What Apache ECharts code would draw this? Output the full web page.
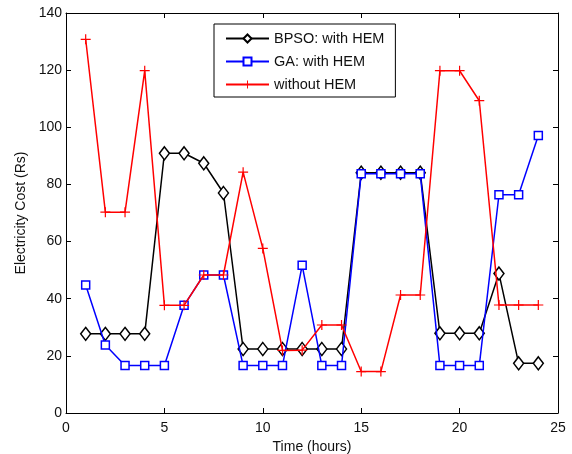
<!DOCTYPE html>
<html>
<head>
<meta charset="utf-8">
<script src="https://cdn.jsdelivr.net/npm/echarts@6/dist/echarts.min.js"></script>
<style>
  html, body { margin: 0; padding: 0; background: #fff; }
  #chart { width: 572px; height: 454px; }
</style>
</head>
<body>
<div id="chart"></div>
<script>
// Hours of the day (1..24)
const hours = [1,2,3,4,5,6,7,8,9,10,11,12,13,14,15,16,17,18,19,20,21,22,23,24];

// Electricity cost per hour (Rs)
const bpsoWithHem = [27.7,27.7,27.7,27.7,90.9,90.9,87.4,77,22.4,22.4,22.4,22.4,22.4,22.4,84.1,84.1,84.1,84.1,27.9,27.9,27.9,48.8,17.4,17.4];
const gaWithHem = [44.8,23.8,16.6,16.6,16.6,37.7,48.3,48.3,16.6,16.6,16.6,51.7,16.6,16.6,83.7,83.7,83.7,83.7,16.6,16.6,16.6,76.4,76.4,97.1];
const withoutHem = [130.8,70.3,70.3,119.8,37.7,37.7,48.3,48.3,84.3,57.6,21.9,22,30.8,30.8,14.5,14.5,41.3,41.3,119.8,119.8,109.3,37.8,37.8,37.8];

const seriesNames = ['BPSO: with HEM', 'GA: with HEM', 'without HEM'];
const xTicks = { min: 0, max: 25, interval: 5 };
const yTicks = { min: 0, max: 140, interval: 20 };

const pairs = arr => hours.map((h, i) => [h, arr[i]]);
const FONT = 'Liberation Sans';
const plusPath = 'path://M4.4,0 h1.2 v10 h-1.2 Z M0,4.4 h10 v1.2 h-10 Z';

const chart = echarts.init(document.getElementById('chart'), null, { renderer: 'canvas' });

const axisCommon = {
  type: 'value',
  axisLine: { show: true, onZero: false, lineStyle: { color: '#000', width: 1 } },
  axisTick: { show: true, inside: true, length: 5, lineStyle: { color: '#000' } },
  splitLine: { show: false },
};

chart.setOption({
  backgroundColor: '#fff',
  animation: false,
  grid: { left: 66, top: 13, right: 14, bottom: 41, containLabel: false, outerBoundsMode: 'none' },
  legend: {
    orient: 'vertical',
    left: 214,
    top: 24,
    padding: [7, 11, 5, 11],
    itemGap: 8,
    itemWidth: 43,
    itemHeight: 10,
    backgroundColor: '#fff',
    borderColor: '#000',
    borderWidth: 1,
    borderRadius: 0,
    textStyle: { fontFamily: FONT, fontSize: 14.5, color: '#111' },
    data: seriesNames,
  },
  xAxis: [
    Object.assign({}, axisCommon, {
      position: 'bottom',
      min: xTicks.min, max: xTicks.max, interval: xTicks.interval,
      name: 'Time (hours)',
      nameLocation: 'middle',
      nameGap: 26,
      nameTextStyle: { fontFamily: FONT, fontSize: 14, color: '#111' },
      axisLabel: { fontFamily: FONT, fontSize: 14, color: '#111', margin: 8 },
    }),
    Object.assign({}, axisCommon, {
      position: 'top',
      min: xTicks.min, max: xTicks.max, interval: xTicks.interval,
      axisLabel: { show: false },
    }),
  ],
  yAxis: [
    Object.assign({}, axisCommon, {
      position: 'left',
      min: yTicks.min, max: yTicks.max, interval: yTicks.interval,
      name: 'Electricity Cost (Rs)',
      nameLocation: 'middle',
      nameGap: 35,
      nameTextStyle: { fontFamily: FONT, fontSize: 14, color: '#111' },
      axisLabel: { fontFamily: FONT, fontSize: 14, color: '#111', margin: 4 },
    }),
    Object.assign({}, axisCommon, {
      position: 'right',
      min: yTicks.min, max: yTicks.max, interval: yTicks.interval,
      axisLabel: { show: false },
    }),
  ],
  series: [
    {
      name: seriesNames[0],
      type: 'line',
      data: pairs(bpsoWithHem),
      symbol: 'diamond',
      symbolSize: [10, 13],
      showAllSymbol: true,
      lineStyle: { color: '#000', width: 1.5 },
      itemStyle: { color: '#fff', borderColor: '#000', borderWidth: 1.5 },
      z: 2,
    },
    {
      name: seriesNames[1],
      type: 'line',
      data: pairs(gaWithHem),
      symbol: 'rect',
      symbolSize: 8,
      showAllSymbol: true,
      lineStyle: { color: '#0000ff', width: 1.5 },
      itemStyle: { color: '#fff', borderColor: '#0000ff', borderWidth: 1.5 },
      z: 3,
    },
    {
      name: seriesNames[2],
      type: 'line',
      data: pairs(withoutHem),
      symbol: plusPath,
      symbolSize: 10,
      showAllSymbol: true,
      lineStyle: { color: '#ff0000', width: 1.5 },
      itemStyle: { color: '#ff0000', borderWidth: 0 },
      z: 4,
    },
  ],
});
</script>
</body>
</html>
